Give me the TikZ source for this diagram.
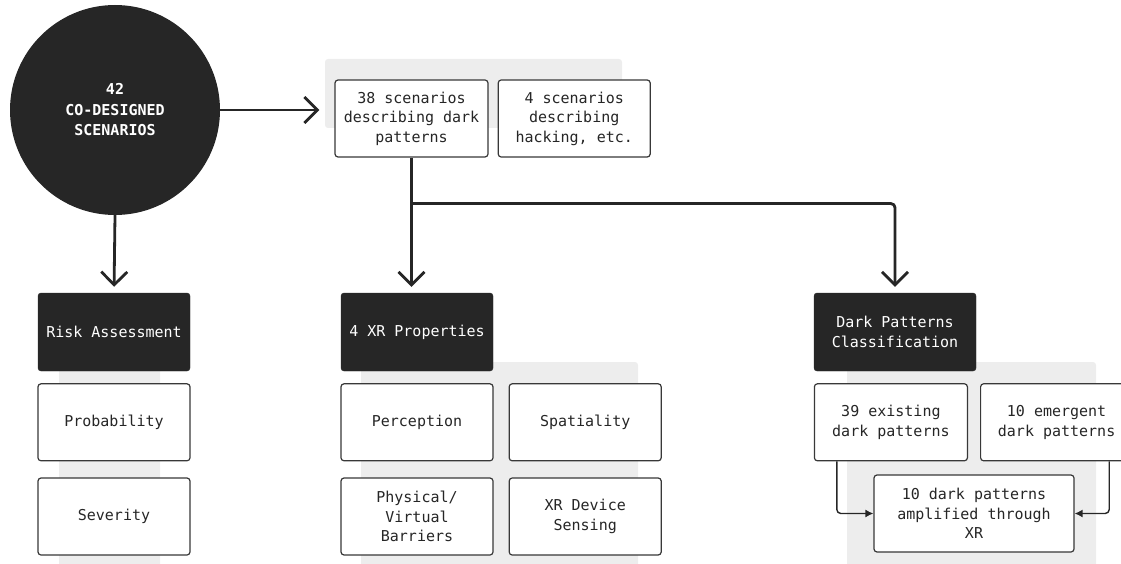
\documentclass[tikz,border=0pt]{standalone}
\usepackage{fontspec}
\setmainfont{DejaVu Sans Mono}
\usepackage{xcolor}
\usetikzlibrary{positioning,arrows.meta,calc}
\definecolor{dpdark}{HTML}{262626}
\definecolor{dpgray}{HTML}{EDEDED}
\definecolor{dpline}{HTML}{383838}

\begin{document}
\begin{tikzpicture}[
  x=1pt, y=-1pt,
  font=\fontsize{15}{19.5}\selectfont,
  head/.style={draw=dpdark, fill=dpdark, text=white, rounded corners=3pt, align=center,
    minimum width=152pt, minimum height=78pt, inner sep=2pt},
  item/.style={draw=dpline, line width=1.2pt, fill=white, text=dpdark, rounded corners=3pt,
    align=center, minimum width=152pt, minimum height=77pt, inner sep=2pt},
  backdrop/.style={fill=dpgray, rounded corners=3pt},
  arrow/.style={-{Straight Barb[length=13pt,width=26pt]}, line width=2.8pt, dpdark},
  feed/.style={-{Latex[length=8pt,width=8pt]}, line width=1.4pt, dpdark, rounded corners=4pt}
]
\useasboundingbox (0,0) rectangle (1121,564);
\clip (0,0) rectangle (1121,564);

% grey panels behind the groups
\fill[backdrop] (325,59) rectangle (622,128);
\fill[backdrop] (59,360) rectangle (160,575);
\fill[backdrop] (361,362) rectangle (638,575);
\fill[backdrop] (847,362) rectangle (1096,575);

\node[circle, fill=dpdark, text=white, minimum size=210pt, align=center,
  font=\fontsize{15}{20.5}\selectfont\bfseries] (scen) at (115,110) {42\\CO-DESIGNED\\SCENARIOS};

\node[item, minimum width=153pt] (dark) at (411.5,118.5) {38 scenarios\\describing dark\\patterns};
\node[item, right=9pt of dark] (hack) {4 scenarios\\describing\\hacking, etc.};

% the three headers
\node[head] (risk) at (114,332) {Risk Assessment};
\node[head] (xr) at (417,332) {4 XR Properties};
\node[head, minimum width=162pt] (dpc) at (895,332) {Dark Patterns\\Classification};

\node[item, below=12pt of risk] (prob) {Probability};
\node[item, below=16pt of prob] (sev) {Severity};

\node[item, below=12pt of xr] (perc) {Perception};
\node[item, right=15pt of perc] (spat) {Spatiality};
\node[item, below=16pt of perc] (barr) {Physical/\\Virtual\\Barriers};
\node[item, below=16pt of spat] (sens) {XR Device\\Sensing};

\node[item, minimum width=153pt, below right=12pt and 0pt of dpc.south west] (exist) {39 existing\\dark patterns};
\node[item, right=12pt of exist] (emer) {10 emergent\\dark patterns};
\coordinate (gapmid) at ($(exist.south east)!0.5!(emer.south west)$);
\node[item, minimum width=200pt, below=13pt of gapmid] (ampl) {10 dark patterns\\amplified through\\XR};

% main arrows
\draw[arrow, shorten >=15pt] (scen.east) -- (scen.east -| dark.west);
\draw[arrow, shorten >=6pt] (scen.south) -- (risk.north);
\draw[arrow, shorten >=6pt] (dark.south) -- (dark.south |- xr.north);
\coordinate (fork) at ($(dark.south)+(0,46)$);
\draw[arrow, rounded corners=4pt, shorten >=6pt] (fork) -| (dpc.north);

% both pattern groups feed the amplified ones
\draw[feed] ([xshift=23pt]exist.south west) |- (ampl.west);
\draw[feed] ([xshift=-24pt]emer.south east) |- (ampl.east);
\end{tikzpicture}
\end{document}
